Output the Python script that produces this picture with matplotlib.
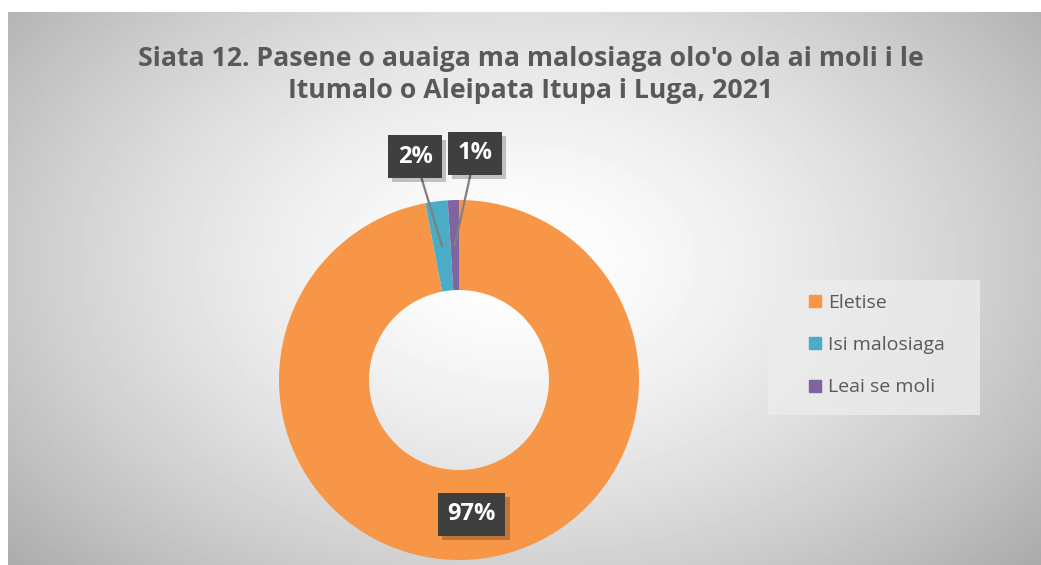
import matplotlib.pyplot as plt
import matplotlib.patheffects as pe
import numpy as np
from matplotlib.lines import Line2D
from matplotlib.patches import Rectangle

plt.rcParams["font.family"] = ["Open Sans", "DejaVu Sans"]

title = "Siata 12. Pasene o auaiga ma malosiaga olo'o ola ai moli i le\nItumalo o Aleipata Itupa i Luga, 2021"
categories = ["Eletise", "Isi malosiaga", "Leai se moli"]
values = [97, 2, 1]
colors = ["#F79646", "#4BACC6", "#8064A2"]

W, H = 1041, 565
fig = plt.figure(figsize=(W / 100, H / 100), dpi=100)

# background with a soft radial gradient
bg = fig.add_axes([8 / W, 0, 1 - 8 / W, (H - 12) / H])
yy, xx = np.mgrid[0:553, 0:1033]
r = np.sqrt(((xx - 510) / 600) ** 2 + ((yy - 250) / 400) ** 2)
shade = 1 - 0.27 * np.clip(r, 0, 1.3) ** 1.5
bg.imshow(shade, cmap="gray", vmin=0, vmax=1, aspect="auto", interpolation="bilinear")
bg.set_axis_off()

fig.text(531 / W, 1 - 75 / H, title, ha="center", va="center", fontsize=19.2,
         fontweight="bold", color="#595959", linespacing=1.35)

# donut
ax = fig.add_axes([279 / W, 5 / H, 360 / W, 360 / H])
wedges, _ = ax.pie(values, colors=colors, startangle=90, counterclock=False,
                   radius=1, wedgeprops=dict(width=0.5, linewidth=0))
ax.set_xlim(-1, 1)
ax.set_ylim(-1, 1)
ax.set_aspect("equal")

total = sum(values)
label_pos = [None, (-0.244, 1.24), (0.09, 1.26)]
box = dict(boxstyle="square,pad=0.4", facecolor="#3f3f3f", edgecolor="none")
shadow = [pe.SimplePatchShadow(offset=(3, -3), shadow_rgbFace="#000000", alpha=0.22), pe.Normal()]
start = 90
for i, v in enumerate(values):
    sweep = v / total * 360
    mid = np.deg2rad(start - sweep / 2)
    start -= sweep
    px, py = 0.75 * np.cos(mid), 0.75 * np.sin(mid)
    txt = f"{v / total * 100:.0f}%"
    if label_pos[i] is None:
        t = ax.text(px, py, txt, ha="center", va="center", fontsize=17,
                    fontweight="bold", color="white", bbox=box, zorder=5)
    else:
        t = ax.annotate(txt, xy=(px, py), xytext=label_pos[i], ha="center", va="center",
                        fontsize=17, fontweight="bold", color="white", bbox=box,
                        annotation_clip=False, zorder=5,
                        arrowprops=dict(arrowstyle="-", color="#7f7f7f", lw=1.6,
                                        shrinkA=0, shrinkB=0))
    t.get_bbox_patch().set_path_effects(shadow)

# legend
fig.patches.append(Rectangle((768 / W, 1 - 415 / H), 212 / W, 135 / H,
                             transform=fig.transFigure, facecolor="#ececec",
                             edgecolor="none", alpha=0.8))
handles = [Line2D([], [], marker="s", linestyle="none", markersize=9,
                  markerfacecolor=c, markeredgecolor=c) for c in colors]
fig.legend(handles, categories, loc="upper left", bbox_to_anchor=(797 / W, 1 - 284 / H),
           frameon=False, fontsize=14, labelcolor="#595959", handlelength=0.8,
           handletextpad=0.3, labelspacing=1.25, borderpad=0)

fig.savefig("out.png", dpi=100)
